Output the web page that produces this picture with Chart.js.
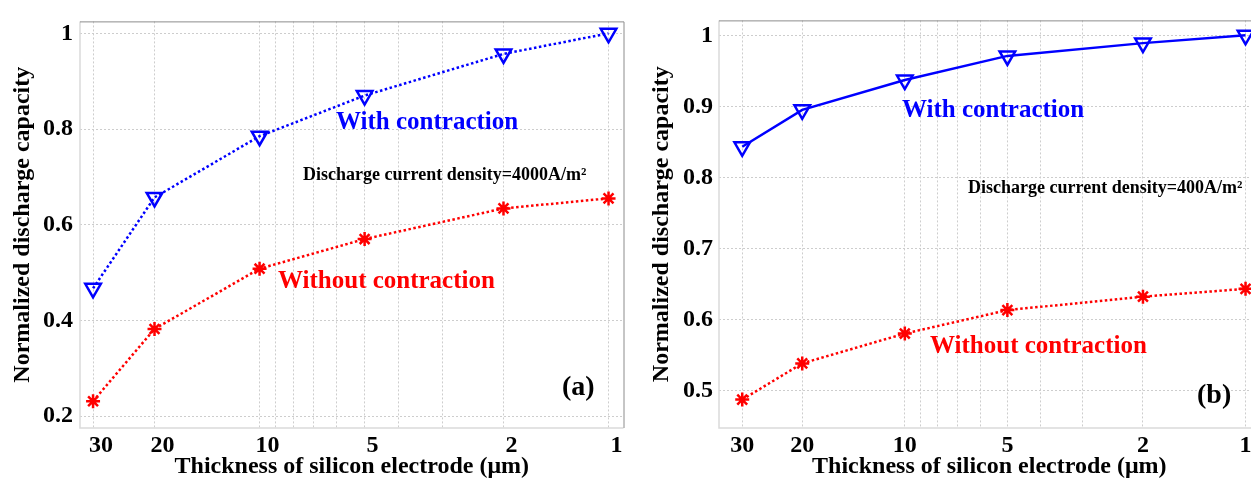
<!DOCTYPE html>
<html>
<head>
<meta charset="utf-8">
<script src="https://cdn.jsdelivr.net/npm/chart.js@4.4.0/dist/chart.umd.min.js"></script>
<style>
  html, body { margin: 0; padding: 0; background: #fff; overflow: hidden; }
  #wrapA { position: absolute; left: 0; top: 0; width: 635px; height: 478px; }
  #wrapB { position: absolute; left: 635px; top: 0; width: 636px; height: 478px; }
</style>
</head>
<body>
<div id="wrapA"><canvas id="chartA"></canvas></div>
<div id="wrapB"><canvas id="chartB"></canvas></div>
<script>
// thickness of the silicon electrode (um), log axis drawn from 30 down to 1
const thickness = [30, 20, 10, 5, 2, 1];
const xTickLabels = [30, 20, 10, 5, 2, 1];
const xGridValues = [1, 2, 3, 4, 5, 6, 7, 8, 9, 10, 20, 30];

// panel (a) 4000 A/m2
const withA = [0.467, 0.657, 0.785, 0.870, 0.957, 1.0];
const withoutA = [0.231, 0.382, 0.508, 0.570, 0.634, 0.655];
const yTicksA = [0.2, 0.4, 0.6, 0.8, 1];

// panel (b) 400 A/m2
const withB = [0.843, 0.895, 0.937, 0.971, 0.989, 1.0];
const withoutB = [0.487, 0.538, 0.580, 0.613, 0.632, 0.643];
const yTicksB = [0.5, 0.6, 0.7, 0.8, 0.9, 1];

const FONT = '"Liberation Serif", "Times New Roman", serif';
const BLUE = '#0000ff';
const RED = '#ff0000';

function toPoints(vals) {
  return thickness.map((t, i) => ({ x: t, y: vals[i] }));
}

// frame round the plot + the free texts of each panel
const panelDecor = {
  id: 'panelDecor',
  afterDraw(chart, args, opts) {
    const ctx = chart.ctx;
    const a = chart.chartArea;
    ctx.save();
    ctx.lineWidth = 1.5;
    ctx.strokeStyle = '#dadada';
    ctx.beginPath();
    ctx.moveTo(a.left, a.top);
    ctx.lineTo(a.left, a.bottom);
    ctx.lineTo(a.right, a.bottom);
    ctx.stroke();
    ctx.lineWidth = 1;
    ctx.strokeStyle = '#8c8c8c';
    ctx.beginPath();
    ctx.moveTo(a.left, a.top + 0.5);
    ctx.lineTo(a.right + 0.5, a.top + 0.5);
    ctx.lineTo(a.right + 0.5, a.bottom);
    ctx.stroke();

    ctx.textBaseline = 'alphabetic';
    ctx.textAlign = 'left';
    (opts.texts || []).forEach(t => {
      ctx.font = 'bold ' + t.size + 'px ' + FONT;
      ctx.fillStyle = t.color;
      ctx.fillText(t.text, t.x, t.y);
    });
    ctx.restore();
  }
};

function makeChart(id, cfg) {
  return new Chart(document.getElementById(id), {
    type: 'line',
    data: {
      datasets: [
        {
          label: 'With contraction',
          data: toPoints(cfg.withVals),
          borderColor: BLUE,
          borderWidth: 2.5,
          borderDash: cfg.withDash,
          pointStyle: 'triangle',
          rotation: 180,
          pointRadius: 9,
          pointBorderWidth: 2.5,
          pointBorderColor: BLUE,
          pointBackgroundColor: 'rgba(0,0,0,0)',
          tension: 0,
          clip: false
        },
        {
          label: 'Without contraction',
          data: toPoints(cfg.withoutVals),
          borderColor: RED,
          borderWidth: 2.5,
          borderDash: [2.5, 2.5],
          pointStyle: 'star',
          pointRadius: 7,
          pointBorderWidth: 2.5,
          pointBorderColor: RED,
          pointBackgroundColor: RED,
          tension: 0,
          clip: false
        }
      ]
    },
    options: {
      responsive: true,
      maintainAspectRatio: false,
      animation: false,
      layout: { padding: { top: cfg.padTop, right: 10, left: 0, bottom: 0 } },
      plugins: {
        legend: { display: false },
        tooltip: { enabled: false },
        panelDecor: { texts: cfg.texts }
      },
      scales: {
        x: {
          type: 'logarithmic',
          reverse: true,
          min: cfg.xMin,
          max: cfg.xMax,
          afterBuildTicks: s => { s.ticks = xGridValues.map(v => ({ value: v })); },
          afterFit: s => { s.height = 50; },
          grid: { color: '#cdcdcd', lineWidth: 1, drawTicks: false },
          border: { display: false, dash: [2, 2] },
          ticks: {
            autoSkip: false,
            maxRotation: 0,
            padding: 3,
            labelOffset: cfg.labelOffset,
            color: '#000',
            font: { family: FONT, size: 24, weight: 'bold' },
            callback: v => xTickLabels.includes(v) ? String(v) : ''
          },
          title: {
            display: true,
            text: 'Thickness of silicon electrode (\u03bcm)',
            color: '#000',
            font: { family: FONT, size: 24, weight: 'bold', lineHeight: 0.9 },
            padding: { top: 0, bottom: 0 }
          }
        },
        y: {
          min: cfg.yMin,
          max: cfg.yMax,
          afterBuildTicks: s => { s.ticks = cfg.yTicks.map(v => ({ value: v })); },
          afterFit: s => { s.width = cfg.yWidth; },
          grid: { color: '#cdcdcd', lineWidth: 1, drawTicks: false },
          border: { display: false, dash: [2, 2] },
          ticks: {
            autoSkip: false,
            padding: cfg.yTickPad,
            color: '#000',
            font: { family: FONT, size: 24, weight: 'bold' },
            callback: v => String(parseFloat(v.toFixed(2)))
          },
          title: {
            display: true,
            text: 'Normalized discharge capacity',
            color: '#000',
            font: { family: FONT, size: 24, weight: 'bold' },
            padding: { top: cfg.yTitlePad, bottom: 0 }
          }
        }
      }
    },
    plugins: [panelDecor]
  });
}

makeChart('chartA', {
  withVals: withA,
  withoutVals: withoutA,
  withDash: [2.5, 2.5],
  yTicks: yTicksA,
  yMin: 0.175, yMax: 1.025,
  xMin: 0.906, xMax: 32.7,
  padTop: 17,
  yWidth: 80,
  yTickPad: 7,
  yTitlePad: 8,
  labelOffset: 8,
  texts: [
    { text: 'With contraction', x: 336, y: 129, size: 25, color: BLUE },
    { text: 'Without contraction', x: 278, y: 288, size: 25, color: RED },
    { text: 'Discharge current density=4000A/m\u00b2', x: 303, y: 180, size: 18, color: '#000' },
    { text: '(a)', x: 562, y: 395, size: 28, color: '#000' }
  ]
});

makeChart('chartB', {
  withVals: withB,
  withoutVals: withoutB,
  withDash: [],
  yTicks: yTicksB,
  yMin: 0.447, yMax: 1.021,
  xMin: 0.91, xMax: 35.1,
  padTop: 18,
  yWidth: 84,
  yTickPad: 6,
  yTitlePad: 12,
  labelOffset: 0,
  texts: [
    { text: 'With contraction', x: 902 - 635, y: 117, size: 25, color: BLUE },
    { text: 'Without contraction', x: 930 - 635, y: 353, size: 25, color: RED },
    { text: 'Discharge current density=400A/m\u00b2', x: 968 - 635, y: 193, size: 18, color: '#000' },
    { text: '(b)', x: 1197 - 635, y: 403, size: 28, color: '#000' }
  ]
});
</script>
</body>
</html>
